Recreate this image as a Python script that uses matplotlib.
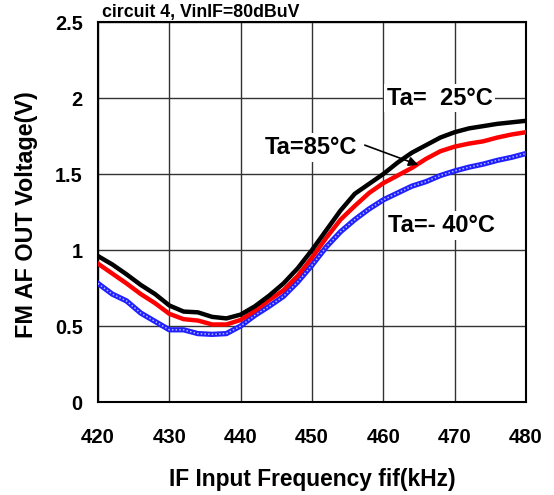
import matplotlib.pyplot as plt

plt.rcParams["font.family"] = ["Liberation Sans", "DejaVu Sans"]
plt.rcParams["font.weight"] = "bold"

# frequency (kHz)
freq = [420, 422, 424, 426, 428, 430, 432, 434, 436, 438, 440,
        442, 444, 446, 448, 450, 452, 454, 456, 458, 460,
        462, 464, 466, 468, 470, 472, 474, 476, 478, 480]

# FM AF OUT voltage (V)
v_25 = [0.96, 0.905, 0.84, 0.77, 0.71, 0.635, 0.595, 0.59, 0.56, 0.55, 0.575,
        0.63, 0.70, 0.78, 0.88, 1.00, 1.13, 1.26, 1.37, 1.435, 1.50,
        1.575, 1.64, 1.69, 1.74, 1.775, 1.80, 1.815, 1.83, 1.84, 1.85]
v_85 = [0.91, 0.845, 0.78, 0.71, 0.65, 0.58, 0.545, 0.536, 0.51, 0.51, 0.54,
        0.60, 0.67, 0.735, 0.83, 0.95, 1.08, 1.20, 1.29, 1.375, 1.44,
        1.49, 1.54, 1.60, 1.65, 1.68, 1.70, 1.715, 1.74, 1.76, 1.775]
v_m40 = [0.78, 0.71, 0.665, 0.585, 0.53, 0.475, 0.475, 0.45, 0.445, 0.45, 0.50,
         0.57, 0.63, 0.695, 0.79, 0.90, 1.02, 1.12, 1.20, 1.27, 1.33,
         1.375, 1.42, 1.45, 1.49, 1.52, 1.545, 1.565, 1.59, 1.61, 1.635]

x_ticks = [420, 430, 440, 450, 460, 470, 480]
y_ticks = [0, 0.5, 1, 1.5, 2, 2.5]
y_labels = ["0", "0.5", "1", "1.5", "2", "2.5"]

fig = plt.figure(figsize=(5.54, 4.95), dpi=100)
ax = fig.add_axes([98 / 554, 1 - 402 / 495, 428 / 554, 380 / 495])

# -40C trace drawn as thick blue with a light dotted core (square-marker look)
ax.plot(freq, v_m40, color="#2020ff", linewidth=3.8, zorder=3)
ax.plot(freq, v_m40, color="#b0b8ff", linewidth=1.1, linestyle=(0, (1, 1.4)), zorder=3)
ax.plot(freq, v_85, color="#ff0000", linewidth=3.2, zorder=4)
ax.plot(freq, v_25, color="black", linewidth=3.2, zorder=5)

ax.set_xlim(420, 480)
ax.set_ylim(0, 2.5)
ax.set_xticks(x_ticks)
ax.set_yticks(y_ticks)
ax.set_yticklabels(y_labels)
ax.tick_params(axis="x", length=0, pad=18.5, labelsize=14.7)
ax.tick_params(axis="y", length=0, pad=11, labelsize=14.3)
ax.grid(True, color="#333333", linewidth=1)
ax.set_axisbelow(True)
for sp in ax.spines.values():
    sp.set_linewidth(1.5)
    sp.set_color("black")

ax.set_xlabel("IF Input Frequency fif(kHz)", fontsize=16.4, fontweight="bold", va="center")
ax.set_ylabel("FM AF OUT Voltage(V)", fontsize=16.8, fontweight="bold", va="center")
ax.xaxis.set_label_coords(0.5, -0.205)
ax.yaxis.set_label_coords(-0.168, 0.492)

box = dict(facecolor="white", edgecolor="none", pad=2)
ax.text(467.9, 2.0, "Ta=  25°C", fontsize=17, ha="center", va="center", bbox=box, zorder=6)
ax.text(468.1, 1.16, "Ta=- 40°C", fontsize=17, ha="center", va="center", bbox=box, zorder=6)
ax.text(449.9, 1.673, "Ta=85°C", fontsize=17, ha="center", va="center", bbox=box, zorder=6)
ax.annotate("", xy=(464.9, 1.56), xytext=(457.4, 1.69),
            arrowprops=dict(arrowstyle="-|>", color="black", lw=1.2,
                            mutation_scale=14, shrinkA=0, shrinkB=0), zorder=7)

fig.text(102 / 554, 1 - 12 / 495, "circuit 4, VinIF=80dBuV", fontsize=12.8,
         fontweight="bold", ha="left", va="center")

fig.savefig("out.png", dpi=100)
